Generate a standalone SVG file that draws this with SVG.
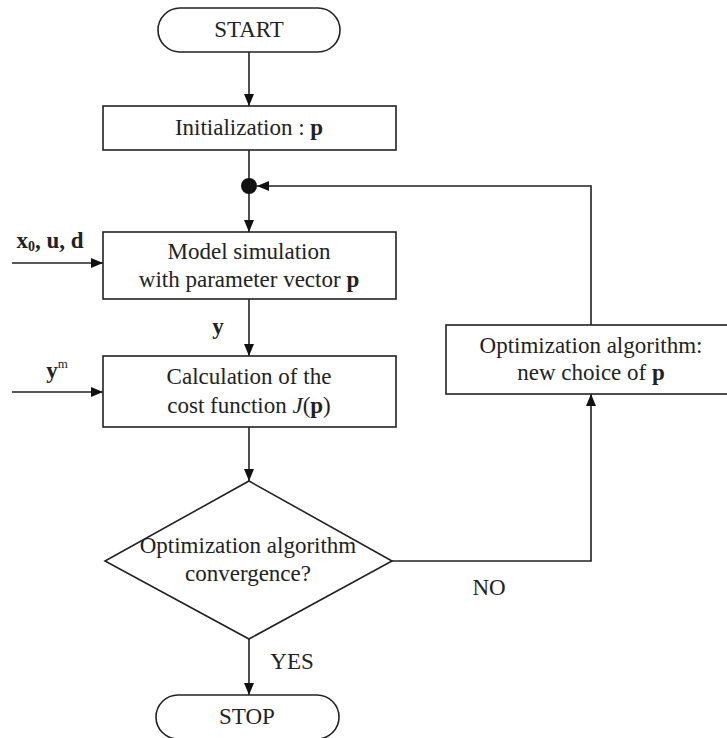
<svg xmlns="http://www.w3.org/2000/svg" width="727" height="738" viewBox="0 0 727 738">
<style>
.s{fill:#fff;stroke:#222;stroke-width:1.6}
text{font-family:'Liberation Serif','Times New Roman',Times,serif;font-size:23px;fill:#222;text-anchor:middle}
.b{font-weight:bold}
.l{fill:none;stroke:#222;stroke-width:1.6}
</style>
<defs>
<marker id="a" viewBox="0 0 12 10" refX="12" refY="5" markerWidth="12" markerHeight="10" markerUnits="userSpaceOnUse" orient="auto">
<path d="M0,0 L12,5 L0,10 Z" fill="#111"/>
</marker>
</defs>
<g id="connectors">
<line class="l" x1="249" y1="52" x2="249" y2="106" marker-end="url(#a)"/>
<line class="l" x1="249" y1="150" x2="249" y2="186"/>
<line class="l" x1="249" y1="186" x2="249" y2="232" marker-end="url(#a)"/>
<line class="l" x1="249" y1="299" x2="249" y2="356" marker-end="url(#a)"/>
<line class="l" x1="249" y1="427" x2="249" y2="481" marker-end="url(#a)"/>
<line class="l" x1="249" y1="639" x2="249" y2="695" marker-end="url(#a)"/>
<line class="l" x1="12" y1="263" x2="103" y2="263" marker-end="url(#a)"/>
<line class="l" x1="12" y1="392" x2="103" y2="392" marker-end="url(#a)"/>
<polyline class="l" points="392,561 591,561 591,394" marker-end="url(#a)"/>
<polyline class="l" points="591,325 591,186 257,186" marker-end="url(#a)"/>
<circle cx="249" cy="186" r="8" fill="#111"/>
<text class="b" x="50" y="248" font-size="22">x<tspan font-size="14" dy="3">0</tspan><tspan dy="-3">, u, d</tspan></text>
<text class="b" x="218" y="334">y</text>
<text class="b" x="57" y="378">y<tspan font-size="13" font-weight="normal" dy="-10">m</tspan></text>
<text x="489" y="595">NO</text>
<text x="292" y="669">YES</text>
</g>
<g id="start">
<rect class="s" x="158" y="8" width="182" height="44" rx="22"/>
<text x="249" y="37">START</text>
</g>
<g id="init">
<rect class="s" x="103" y="106" width="293" height="44"/>
<text x="249" y="135">Initialization : <tspan class="b">p</tspan></text>
</g>
<g id="model">
<rect class="s" x="103" y="232" width="293" height="67"/>
<text x="249" y="259">Model simulation</text>
<text x="249" y="287">with parameter vector <tspan class="b">p</tspan></text>
</g>
<g id="cost">
<rect class="s" x="103" y="356" width="293" height="71"/>
<text x="249" y="384">Calculation of the</text>
<text x="249" y="413">cost function <tspan font-style="italic">J</tspan>(<tspan class="b">p</tspan>)</text>
</g>
<g id="decision">
<polygon class="s" points="249,481 392,561 249,639 105,561"/>
<text x="248" y="553">Optimization algorithm</text>
<text x="248" y="581">convergence?</text>
</g>
<g id="optim">
<rect class="s" x="446" y="325" width="290" height="69"/>
<text x="591" y="353">Optimization algorithm:</text>
<text x="591" y="380">new choice of  <tspan class="b">p</tspan></text>
</g>
<g id="stop">
<rect class="s" x="156" y="695" width="183" height="44" rx="22"/>
<text x="247" y="724">STOP</text>
</g>
</svg>
